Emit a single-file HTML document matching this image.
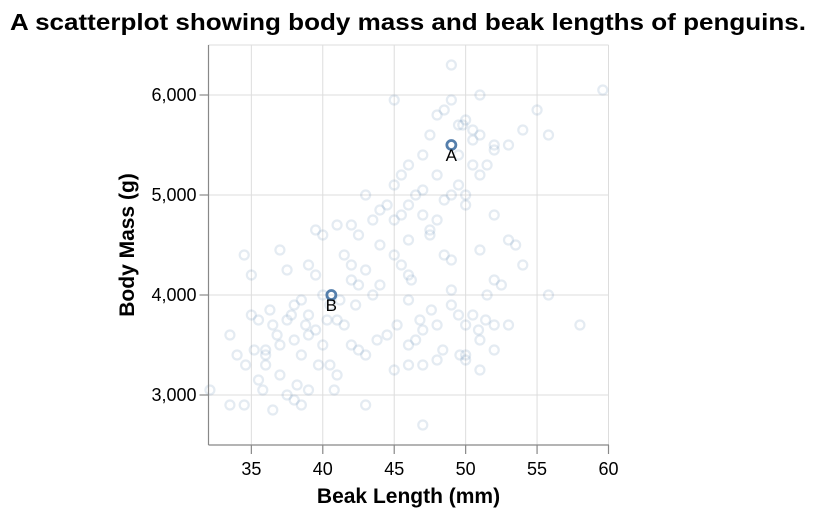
<!DOCTYPE html>
<html><head><meta charset="utf-8"><style>
body{margin:0;background:#fff;}
svg{display:block;font-family:"Liberation Sans",Arial,sans-serif;}
</style></head><body>
<svg id="chart" width="816" height="518" viewBox="0 0 816 518" xmlns="http://www.w3.org/2000/svg">
<text x="10" y="30" font-size="23" font-weight="bold" fill="#000" textLength="796" lengthAdjust="spacingAndGlyphs">A scatterplot showing body mass and beak lengths of penguins.</text>
<g id="grid"></g>
<g id="points"></g>
<g id="axes"></g>
</svg>
<script>
const xTicks=[35,40,45,50,55,60];
const yTicks=[3000,4000,5000,6000];
const yTickLabels=["3,000","4,000","5,000","6,000"];
const beakLengths=[32.1,33.5,34.5,33.5,34,34.5,35,35,35.5,36,36.5,36,37,37.5,38,38.5,39,35.5,36,37,37.5,38,38.5,39,39.5,40,40.5,41,39,39.5,40,41,42,37,37.5,38,38.5,39,39.5,40,40.5,41,41.5,42,42.5,43,43,41.5,42,42.5,43,43.5,44,45,45.5,46,46,45,46,47,48,47,46,46.5,47,48,49,49,49.5,50,50.5,51,50,51,52,52,51.5,52,52.5,51,53,53.5,54,55.8,58,50,52,44,44.5,45,45,45.5,46,46.5,47,47.5,48,48.5,49,49.5,50,46,47,47.5,48,48.5,49,49,49.5,50,50.5,51,51,52,52,53,54,55,55.8,59.6,45,50.5,51,51.5,43,43.5,44,42.5,46,46.2,45.5,47,48,49.5,50,48.5,49,47.5,50.5,49.8,36.5,37.8,38.2,39.7,40.8,36.8,34.6,35.2,40.3,41.2,42.3,43.8,44.5,45.2,46.8,47.6,48.4,49.6,50.9,51.4,53,42,38.8,36.3,35.8];
const bodyMasses=[3050,2900,2900,3600,3400,4400,4200,3800,3750,3400,2850,3300,3200,3000,2950,2900,3050,3150,3450,3500,3750,3900,3950,3800,3650,3500,3300,3200,4300,4650,4600,4700,4700,4450,4250,3550,3400,3600,4200,4000,3900,3750,3700,3500,3450,3400,2900,4400,4150,4100,4250,4000,4100,4400,4300,4550,3950,3250,3300,3300,3350,2700,3500,3550,3650,3700,3900,4050,3800,3700,3800,3550,3350,3250,3450,3700,4000,4150,4100,4450,4550,4500,4300,4000,3700,3400,4800,4500,4900,4750,5100,5200,4900,5000,4800,4650,4750,4950,5000,5100,5000,5300,5400,5600,5800,5850,5950,6300,5700,5750,5550,5600,6000,5500,5450,5500,5650,5850,5600,6050,5950,5300,5200,5300,5000,4750,4850,4600,4200,4150,4800,5050,5200,5400,4900,4400,4350,4600,5650,5700,3700,3800,3100,3300,3050,3600,3300,3450,3750,3950,3900,3550,3600,3700,3750,3850,3450,3400,3650,3750,3700,4300,3700,3850,3050];
const highlightLabels=["A","B"];
const highlightBeak=[49.0,40.6];
const highlightMass=[5500,4000];

const X0=208.5,X1=608.5,Y0=445,Y1=45,XMIN=32,XMAX=60,YMIN=2500,YMAX=6500;
function xs(v){return X0+(v-XMIN)/(XMAX-XMIN)*(X1-X0);}
function ys(v){return Y0-(v-YMIN)/(YMAX-YMIN)*(Y0-Y1);}
const NS="http://www.w3.org/2000/svg";
function mk(tag,attrs,parent){const e=document.createElementNS(NS,tag);for(const k in attrs)e.setAttribute(k,attrs[k]);parent.appendChild(e);return e;}
const grid=document.getElementById('grid'),pts=document.getElementById('points'),axes=document.getElementById('axes');
xTicks.forEach(t=>{const l=mk('line',{x1:xs(t),x2:xs(t),y1:Y1,y2:Y0,stroke:'#ddd','stroke-width':1},grid);

});
yTicks.forEach(t=>{const l=mk('line',{x1:X0,x2:X1,y1:ys(t),y2:ys(t),stroke:'#ddd','stroke-width':1},grid);

});
mk('line',{x1:X0,x2:X1,y1:Y1,y2:Y1,stroke:'#ddd'},grid);
mk('line',{x1:X1,x2:X1,y1:Y1,y2:Y0,stroke:'#ddd'},grid);
beakLengths.forEach((b,i)=>{const c=mk('circle',{cx:xs(b),cy:ys(bodyMasses[i]),r:4.5,fill:'none',stroke:'#4c78a8','stroke-width':2.2,'stroke-opacity':0.15},pts);

});
highlightBeak.forEach((b,i)=>{const c=mk('circle',{cx:xs(b),cy:ys(highlightMass[i]),r:4.5,fill:'none',stroke:'#4c78a8','stroke-width':2.8,'stroke-opacity':0.95},pts);


const t=mk('text',{x:xs(b),y:ys(highlightMass[i])+16,'text-anchor':'middle','font-size':17,fill:'#000'},pts);
t.textContent=highlightLabels[i];

});
mk('line',{x1:X0,x2:X1+0.5,y1:Y0,y2:Y0,stroke:'#888','stroke-width':1.2},axes);
mk('line',{x1:X0,x2:X0,y1:Y1,y2:Y0,stroke:'#888','stroke-width':1.2},axes);
xTicks.forEach(t=>{mk('line',{x1:xs(t),x2:xs(t),y1:Y0,y2:Y0+9,stroke:'#888','stroke-width':1.2},axes);
const tx=mk('text',{x:xs(t),y:Y0+30,'text-anchor':'middle','font-size':18,fill:'#000'},axes);
tx.textContent=t;

});
yTicks.forEach((t,i)=>{mk('line',{x1:X0-9,x2:X0,y1:ys(t),y2:ys(t),stroke:'#888','stroke-width':1.2},axes);
const tx=mk('text',{x:X0-12,y:ys(t)+6,'text-anchor':'end','font-size':18,fill:'#000'},axes);
tx.textContent=yTickLabels[i];

});
const xt=mk('text',{x:(X0+X1)/2,y:503,'text-anchor':'middle','font-size':21,'font-weight':'bold',fill:'#000'},axes);
xt.textContent='Beak Length (mm)';


const yt=mk('text',{x:0,y:0,'text-anchor':'middle','font-size':21,'font-weight':'bold',fill:'#000',transform:'translate(134,245) rotate(-90)'},axes);
yt.textContent='Body Mass (g)';


</script>
</body></html>
